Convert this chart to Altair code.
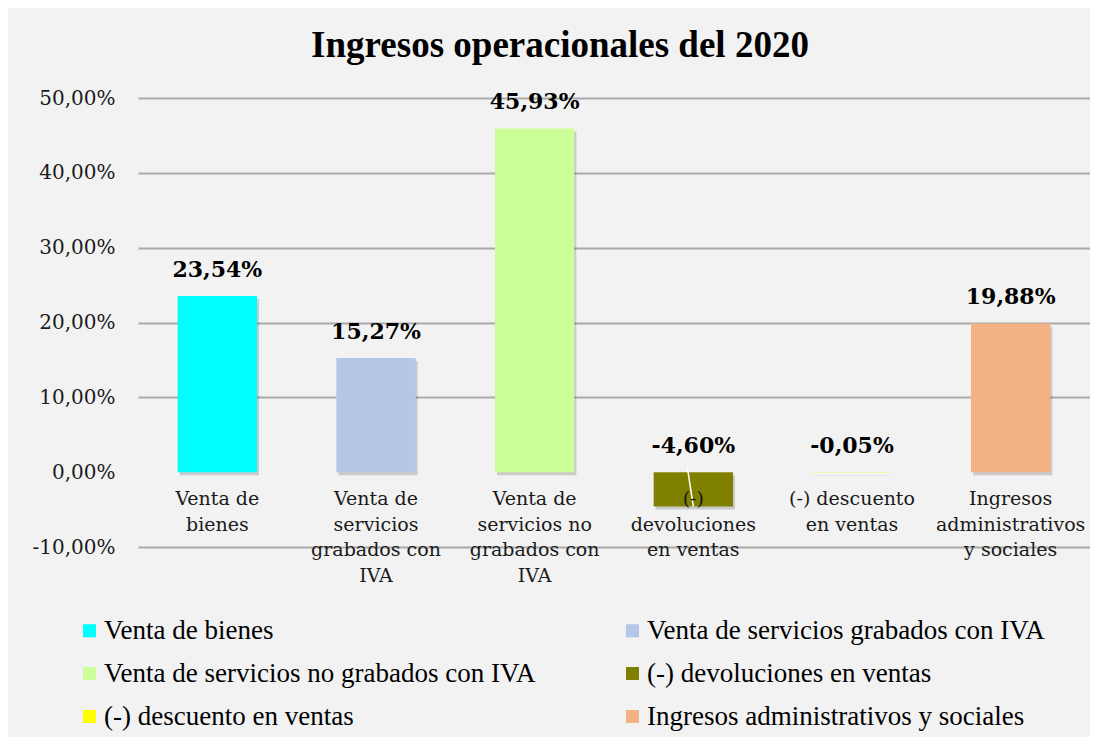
import altair as alt
import pandas as pd

categories = [
    "Venta de bienes",
    "Venta de servicios grabados con IVA",
    "Venta de servicios no grabados con IVA",
    "(-) devoluciones en ventas",
    "(-) descuento en ventas",
    "Ingresos administrativos y sociales",
]
axis_labels = [
    "Venta de\nbienes",
    "Venta de\nservicios\ngrabados con\nIVA",
    "Venta de\nservicios no\ngrabados con\nIVA",
    "(-)\ndevoluciones\nen ventas",
    "(-) descuento\nen ventas",
    "Ingresos\nadministrativos\ny sociales",
]
values = [23.54, 15.27, 45.93, -4.60, -0.05, 19.88]
colors = ["#00FFFF", "#B4C7E7", "#CCFF99", "#808000", "#FFFF00", "#F4B183"]
y_ticks = [-10, 0, 10, 20, 30, 40, 50]

# legend fills column by column: order entries so rows read left-to-right
legend_order = [0, 2, 4, 1, 3, 5]
legend_domain = [categories[i] for i in legend_order]
legend_range = [colors[i] for i in legend_order]

df = pd.DataFrame({
    "cat": categories,
    "label": axis_labels,
    "value": values,
    "txt": [f"{v:.2f}".replace(".", ",") + "%" for v in values],
})

yscale = alt.Scale(domain=[-10, 50], nice=False, zero=True)
xenc = alt.X("cat:N", sort=categories, axis=None,
             scale=alt.Scale(paddingInner=0.5, paddingOuter=0.25))

base = alt.Chart(df).encode(x=xenc)

yaxis = alt.Axis(
    values=y_ticks,
    labelExpr="(datum.value < 0 ? '-' : '') + replace(format(abs(datum.value), '.2f'), '.', ',') + '%'",
    title=None, domain=False, ticks=False, labelPadding=23,
    labelFont="DejaVu Serif", labelFontSize=20, labelColor="#1a1a1a",
    gridColor={"condition": {"test": "datum.value === 0", "value": "transparent"}, "value": "#a9a9a9"},
    gridWidth=2,
)

shadow = base.mark_bar(color="#000000", opacity=0.16, xOffset=2, yOffset=3).encode(
    y=alt.Y("value:Q", scale=yscale, axis=yaxis)
)

bars = base.mark_bar().encode(
    y=alt.Y("value:Q", scale=yscale),
    color=alt.Color(
        "cat:N",
        scale=alt.Scale(domain=legend_domain, range=legend_range),
        legend=alt.Legend(
            title=None, orient="none", legendX=-62, legendY=519, columns=2,
            padding=0, columnPadding=83, rowPadding=15, labelFont="Liberation Serif",
            labelFontSize=27, labelColor="#000000", symbolType="square",
            symbolSize=170, symbolStrokeWidth=0, labelOffset=1, labelLimit=700,
        ),
    ),
)

leader = base.transform_filter(alt.datum.cat == "(-) devoluciones en ventas").mark_rule(
    color="#ffffff", strokeWidth=1.5, x2Offset=-6, y2Offset=-5
).encode(x2="cat:N", y=alt.Y("value:Q", scale=yscale), y2=alt.datum(0))

value_labels = base.transform_calculate(pos="max(datum.value, 0)").mark_text(
    font="DejaVu Serif", fontSize=22, fontWeight="bold", dy=-26, baseline="middle", color="#000000"
).encode(y=alt.Y("pos:Q", scale=yscale), text="txt:N")

x_labels = base.mark_text(
    font="DejaVu Serif", fontSize=19, baseline="top", dy=18, lineBreak="\n",
    lineHeight=25.5, color="#1a1a1a"
).encode(y=alt.datum(0), text="label:N")

chart = alt.layer(shadow, bars, leader, value_labels, x_labels).properties(
    width=952, height=449,
    autosize=alt.AutoSizeParams(type="none"),
    padding={"left": 130, "right": 0, "top": 90, "bottom": 190},
    background="#f2f2f2",
    title=alt.TitleParams(
        "Ingresos operacionales del 2020", font="Liberation Serif", fontSize=37,
        fontWeight="bold", color="#000000", anchor="middle", dx=-54, offset=23,
    ),
).configure_view(stroke=None)

chart.save("out.html", embed_options={"renderer": "svg", "actions": False})
